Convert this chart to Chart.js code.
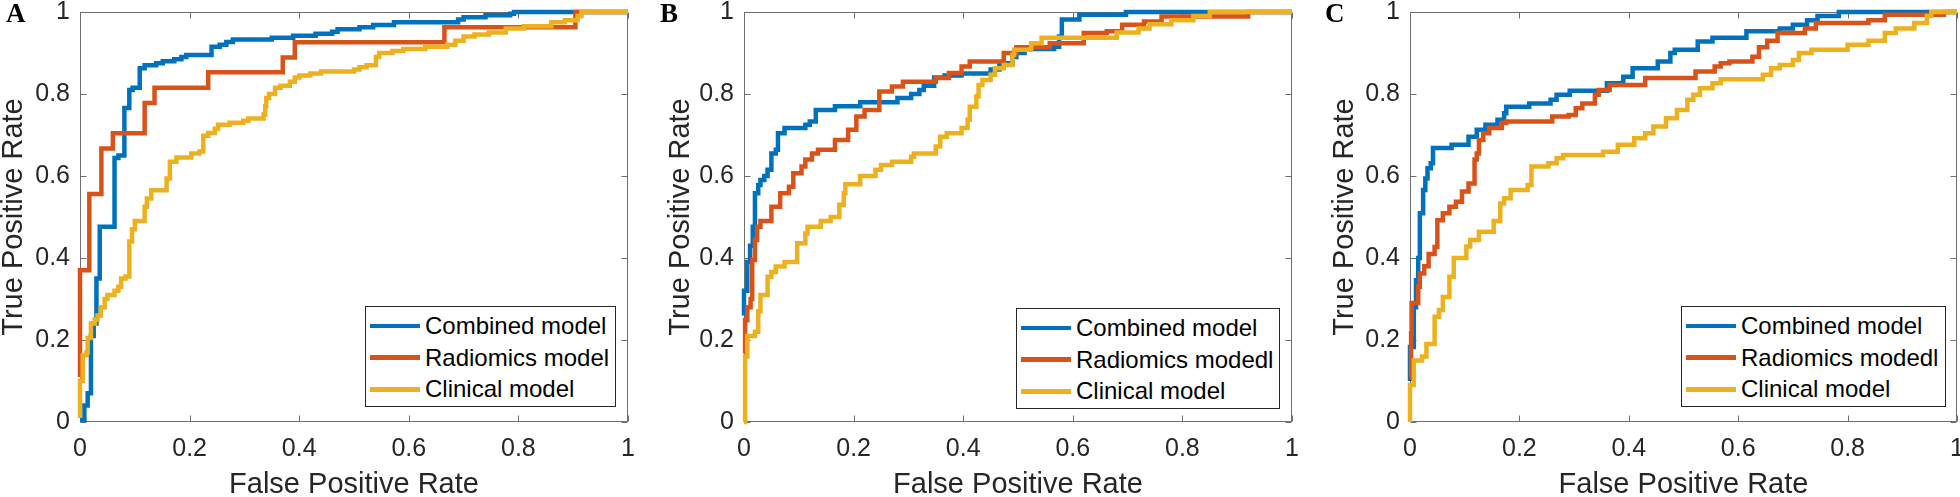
<!DOCTYPE html>
<html>
<head>
<meta charset="utf-8">
<script src="https://cdn.jsdelivr.net/npm/chart.js@4/dist/chart.umd.min.js"></script>
<style>
  html, body { margin:0; padding:0; background:#fff; width:1960px; height:497px; overflow:hidden; }
  canvas { position:absolute; top:0; }
  .letter { position:absolute; top:0px; font-family:"Liberation Serif","Times New Roman",serif; font-weight:bold; font-size:27px; line-height:27px; color:#000; }
  .legend { position:absolute; box-sizing:border-box; border:1px solid #262626; background:#fff; font-family:"Liberation Sans", Arial, sans-serif; font-size:24px; color:#000; }
  .item { position:absolute; left:4px; height:32px; display:flex; align-items:center; white-space:nowrap; }
  .sw { width:50px; height:4.5px; margin-right:5px; }
</style>
</head>
<body>
<script>
// ---------- data ----------
const tickValues = [0, 0.2, 0.4, 0.6, 0.8, 1];
const tickLabels = ['0', '0.2', '0.4', '0.6', '0.8', '1'];
const panelLetters = ['A', 'B', 'C'];
const seriesNamesA = ['Combined model', 'Radiomics model', 'Clinical model'];
const seriesNamesBC = ['Combined model', 'Radiomics modedl', 'Clinical model'];
const xAxisTitle = 'False Positive Rate';
const yAxisTitle = 'True Positive Rate';

// Panel A
const fprA_combined = [0,0.008,0.014,0.02,0.025,0.03,0.036,0.063,0.07,0.081,0.09,0.096,0.109,0.118,0.139,0.151,0.172,0.185,0.194,0.24,0.255,0.267,0.279,0.35,0.389,0.43,0.46,0.47,0.51,0.535,0.573,0.69,0.70,0.74,0.785,0.792,1];
const tprA_combined = [0.005,0.04,0.07,0.21,0.24,0.35,0.476,0.644,0.65,0.766,0.81,0.815,0.863,0.87,0.875,0.88,0.885,0.89,0.895,0.915,0.92,0.927,0.933,0.937,0.942,0.947,0.952,0.958,0.963,0.968,0.975,0.982,0.987,0.992,0.996,1,1];
const fprA_radiomics = [0,0,0.017,0.039,0.06,0.118,0.136,0.234,0.37,0.392,0.665,0.904,1];
const tprA_radiomics = [0.11,0.37,0.556,0.667,0.704,0.778,0.815,0.853,0.889,0.926,0.963,1,1];
const fprA_clinical = [0,0,0.005,0.012,0.014,0.02,0.027,0.032,0.038,0.045,0.05,0.063,0.07,0.075,0.083,0.09,0.095,0.1,0.118,0.122,0.13,0.158,0.164,0.176,0.203,0.218,0.225,0.234,0.246,0.252,0.273,0.298,0.307,0.335,0.338,0.34,0.345,0.356,0.366,0.383,0.392,0.4,0.42,0.44,0.5,0.51,0.523,0.54,0.546,0.57,0.59,0.63,0.67,0.685,0.70,0.72,0.746,0.777,0.81,0.86,0.885,0.908,0.915,1];
const tprA_clinical = [0.01,0.10,0.163,0.17,0.205,0.24,0.25,0.26,0.28,0.30,0.31,0.32,0.33,0.35,0.355,0.44,0.47,0.49,0.525,0.545,0.565,0.594,0.635,0.645,0.655,0.66,0.698,0.705,0.715,0.725,0.73,0.735,0.74,0.75,0.77,0.79,0.80,0.815,0.82,0.83,0.84,0.845,0.85,0.855,0.86,0.865,0.87,0.89,0.9,0.905,0.91,0.915,0.92,0.93,0.94,0.945,0.95,0.96,0.965,0.975,0.98,0.99,1,1];

// Panel B
const fprB_combined = [0,0,0.006,0.011,0.016,0.02,0.026,0.03,0.037,0.043,0.05,0.058,0.062,0.074,0.112,0.12,0.131,0.166,0.212,0.28,0.305,0.32,0.328,0.347,0.366,0.397,0.45,0.466,0.49,0.497,0.512,0.566,0.575,0.58,0.612,0.697,1];
const tprB_combined = [0.26,0.32,0.39,0.43,0.476,0.558,0.578,0.59,0.60,0.615,0.655,0.664,0.704,0.717,0.725,0.733,0.761,0.77,0.78,0.79,0.80,0.81,0.82,0.84,0.845,0.85,0.86,0.875,0.89,0.90,0.91,0.915,0.94,0.982,0.993,1,1];
const fprB_radiomics = [0,0.002,0.006,0.012,0.015,0.02,0.024,0.03,0.05,0.066,0.082,0.09,0.105,0.112,0.124,0.135,0.166,0.19,0.205,0.22,0.247,0.27,0.29,0.35,0.374,0.397,0.412,0.474,0.497,0.558,0.62,0.662,0.69,0.73,0.762,0.92,1];
const tprB_radiomics = [0.167,0.248,0.28,0.30,0.395,0.444,0.476,0.49,0.525,0.558,0.574,0.607,0.623,0.64,0.655,0.664,0.688,0.713,0.745,0.761,0.806,0.818,0.83,0.839,0.851,0.867,0.879,0.9,0.914,0.924,0.949,0.953,0.969,0.977,0.989,1,1];
const fprB_clinical = [0,0.002,0.006,0.02,0.026,0.03,0.043,0.05,0.058,0.074,0.097,0.112,0.116,0.14,0.158,0.174,0.182,0.185,0.212,0.24,0.25,0.27,0.305,0.31,0.35,0.358,0.37,0.397,0.408,0.412,0.424,0.428,0.435,0.45,0.458,0.474,0.49,0.493,0.524,0.543,0.68,0.72,0.74,0.78,0.82,0.85,1];
const tprB_clinical = [0,0.16,0.21,0.22,0.27,0.31,0.354,0.366,0.379,0.39,0.436,0.46,0.476,0.49,0.5,0.53,0.558,0.58,0.6,0.615,0.627,0.635,0.647,0.655,0.672,0.696,0.704,0.717,0.737,0.769,0.794,0.822,0.834,0.847,0.863,0.871,0.896,0.908,0.924,0.937,0.95,0.96,0.97,0.98,0.99,1,1];

// Panel C
const fprC_combined = [0,0,0.007,0.011,0.015,0.018,0.024,0.028,0.032,0.038,0.042,0.076,0.107,0.122,0.138,0.16,0.172,0.176,0.218,0.257,0.268,0.292,0.36,0.39,0.407,0.453,0.476,0.484,0.526,0.553,0.615,0.676,0.70,0.726,0.745,0.784,1];
const tprC_combined = [0.10,0.183,0.28,0.346,0.40,0.509,0.566,0.594,0.619,0.631,0.668,0.676,0.696,0.713,0.725,0.737,0.753,0.769,0.777,0.786,0.798,0.808,0.826,0.842,0.863,0.879,0.90,0.908,0.928,0.937,0.953,0.96,0.969,0.98,0.99,1,1];
const fprC_radiomics = [0,0.002,0.003,0.015,0.018,0.026,0.034,0.045,0.05,0.06,0.072,0.084,0.095,0.107,0.118,0.122,0.126,0.134,0.145,0.168,0.176,0.26,0.29,0.303,0.315,0.338,0.345,0.365,0.43,0.522,0.557,0.568,0.584,0.626,0.638,0.653,0.672,0.722,0.742,0.838,0.868,0.976,1];
const tprC_radiomics = [0.11,0.216,0.29,0.33,0.362,0.38,0.41,0.427,0.492,0.509,0.525,0.537,0.562,0.582,0.64,0.655,0.688,0.704,0.717,0.729,0.733,0.745,0.749,0.765,0.777,0.798,0.81,0.822,0.839,0.855,0.867,0.875,0.879,0.891,0.914,0.93,0.949,0.96,0.973,0.98,0.993,1,1];
const fprC_clinical = [0,0,0.007,0.022,0.03,0.045,0.053,0.06,0.072,0.08,0.103,0.11,0.126,0.153,0.165,0.172,0.184,0.215,0.222,0.253,0.268,0.28,0.353,0.38,0.41,0.43,0.445,0.468,0.488,0.507,0.518,0.53,0.553,0.568,0.645,0.66,0.676,0.70,0.711,0.734,0.80,0.838,0.868,0.888,0.922,0.945,0.953,1];
const tprC_clinical = [0,0.09,0.15,0.16,0.19,0.257,0.273,0.305,0.354,0.40,0.428,0.444,0.464,0.49,0.533,0.546,0.566,0.578,0.623,0.631,0.643,0.651,0.659,0.676,0.692,0.704,0.721,0.741,0.761,0.786,0.798,0.814,0.826,0.836,0.847,0.863,0.871,0.883,0.90,0.908,0.92,0.93,0.949,0.96,0.973,0.99,1,1];

// ---------- styling / layout ----------
const seriesColors = ['#0072BD', '#D95319', '#EDB120'];
const FONT = '"Liberation Sans", Arial, sans-serif';

const panels = [
  { names: seriesNamesA, fpr: [fprA_combined, fprA_radiomics, fprA_clinical], tpr: [tprA_combined, tprA_radiomics, tprA_clinical],
    left: 0, width: 650, yW: 80, padR: 22, yTitlePad: 2, letterX: 6, legend: { left: 365, top: 306, width: 251, height: 101 } },
  { names: seriesNamesBC, fpr: [fprB_combined, fprB_radiomics, fprB_clinical], tpr: [tprB_combined, tprB_radiomics, tprB_clinical],
    left: 650, width: 660, yW: 94, padR: 18, yTitlePad: 19, letterX: 660, legend: { left: 1016, top: 308, width: 264, height: 101 } },
  { names: seriesNamesBC, fpr: [fprC_combined, fprC_radiomics, fprC_clinical], tpr: [tprC_combined, tprC_radiomics, tprC_clinical],
    left: 1310, width: 650, yW: 100, padR: 3, yTitlePad: 23, letterX: 1325, legend: { left: 1681, top: 306, width: 265, height: 101 } }
];

const boxPlugin = {
  id: 'matlabBox',
  beforeDatasetsDraw(chart) {
    const { ctx, chartArea: a, scales: { x, y } } = chart;
    const L = Math.round(a.left) + 0.5, R = Math.round(a.right) - 0.5;
    const T = Math.round(a.top) + 0.5, B = Math.round(a.bottom) - 0.5;
    ctx.save();
    ctx.strokeStyle = '#6f6f6f';
    ctx.lineWidth = 1;
    ctx.strokeRect(L, T, R - L, B - T);
    const tl = 6;
    ctx.beginPath();
    x.ticks.forEach(t => {
      const px = Math.round(x.getPixelForValue(t.value)) + 0.5;
      ctx.moveTo(px, B); ctx.lineTo(px, B - tl);
      ctx.moveTo(px, T); ctx.lineTo(px, T + tl);
    });
    y.ticks.forEach(t => {
      const py = Math.round(y.getPixelForValue(t.value)) + 0.5;
      ctx.moveTo(L, py); ctx.lineTo(L + tl, py);
      ctx.moveTo(R, py); ctx.lineTo(R - tl, py);
    });
    ctx.stroke();
    ctx.restore();
  }
};

panels.forEach((p, pi) => {
  const cv = document.createElement('canvas');
  cv.width = p.width; cv.height = 497;
  cv.style.left = p.left + 'px';
  document.body.appendChild(cv);

  const datasets = p.names.map((name, si) => ({
    label: name,
    data: p.fpr[si].map((v, i) => ({ x: v, y: p.tpr[si][i] })),
    borderColor: seriesColors[si],
    borderWidth: 4.5,
    pointRadius: 0,
    stepped: true,
    fill: false,
    clip: false,
    order: 3 - si,
    borderCapStyle: 'butt',
    borderJoinStyle: 'miter'
  }));

  new Chart(cv, {
    type: 'line',
    data: { datasets },
    options: {
      responsive: false,
      animation: false,
      devicePixelRatio: 1,
      events: [],
      layout: { padding: { top: 12, right: p.padR, left: 0, bottom: 0 } },
      plugins: { legend: { display: false }, tooltip: { enabled: false } },
      scales: {
        x: {
          type: 'linear', min: 0, max: 1,
          grid: { display: false, drawTicks: false },
          border: { display: false },
          afterBuildTicks: s => { s.ticks = tickValues.map(v => ({ value: v })); },
          ticks: { callback: v => tickLabels[tickValues.indexOf(v)], font: { family: FONT, size: 25 }, color: '#262626', padding: 12, maxRotation: 0, autoSkip: false },
          title: { display: true, text: xAxisTitle, font: { family: FONT, size: 29, lineHeight: 0.8 }, color: '#262626', padding: { top: 0, bottom: 0 } },
          afterFit: s => { s.height = 75; s.paddingLeft = 0; s.paddingRight = 0; }
        },
        y: {
          type: 'linear', min: 0, max: 1,
          grid: { display: false, drawTicks: false },
          border: { display: false },
          afterBuildTicks: s => { s.ticks = tickValues.map(v => ({ value: v })); },
          ticks: { callback: v => tickLabels[tickValues.indexOf(v)], font: { family: FONT, size: 25 }, color: '#262626', padding: 10, autoSkip: false },
          title: { display: true, text: yAxisTitle, font: { family: FONT, size: 29, lineHeight: 0.8 }, color: '#262626', padding: { top: p.yTitlePad, bottom: 0 } },
          afterFit: s => { s.width = p.yW; s.paddingTop = 0; s.paddingBottom = 0; }
        }
      }
    },
    plugins: [boxPlugin]
  });

  // panel letter
  const lt = document.createElement('div');
  lt.className = 'letter';
  lt.style.left = p.letterX + 'px';
  lt.textContent = panelLetters[pi];
  document.body.appendChild(lt);

  // legend (inside axes, lower right)
  const lg = document.createElement('div');
  lg.className = 'legend';
  Object.assign(lg.style, { left: p.legend.left + 'px', top: p.legend.top + 'px', width: p.legend.width + 'px', height: p.legend.height + 'px' });
  p.names.forEach((name, si) => {
    const it = document.createElement('div');
    it.className = 'item';
    it.style.top = (3 + si * 31.7) + 'px';
    const sw = document.createElement('div');
    sw.className = 'sw';
    sw.style.background = seriesColors[si];
    const tx = document.createElement('span');
    tx.textContent = name;
    it.appendChild(sw); it.appendChild(tx);
    lg.appendChild(it);
  });
  document.body.appendChild(lg);
});
</script>
</body>
</html>
